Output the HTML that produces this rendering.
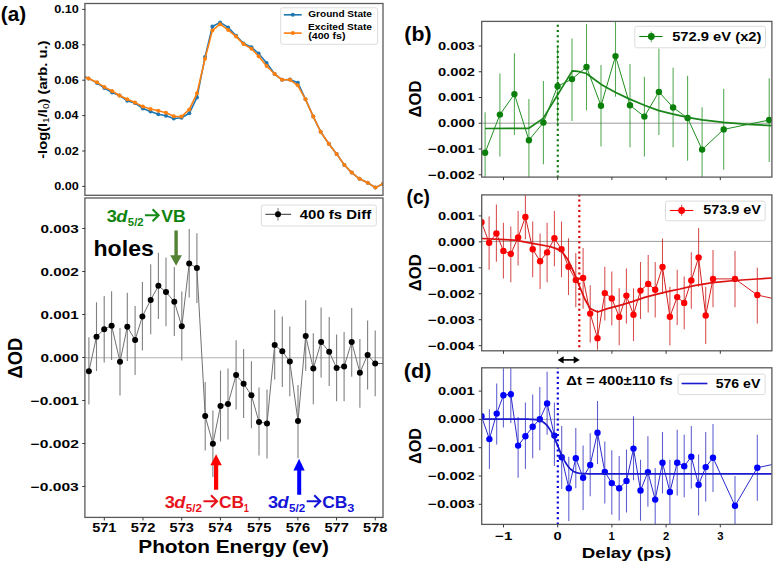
<!DOCTYPE html>
<html><head><meta charset="utf-8"><style>
html,body{margin:0;padding:0;background:#fff;}
svg{display:block;font-family:"Liberation Sans", sans-serif;}
</style></head><body>
<svg width="774" height="563" viewBox="0 0 774 563" font-family="Liberation Sans, sans-serif">
<defs>
<clipPath id="ca1"><rect x="84.9" y="3.5" width="298.1" height="191.8"/></clipPath>
<clipPath id="ca2"><rect x="84.9" y="198.0" width="298.1" height="319.4"/></clipPath>
<clipPath id="cb"><rect x="481.7" y="21.4" width="290.2" height="155.7"/></clipPath>
<clipPath id="cc"><rect x="481.7" y="194.9" width="290.2" height="155.9"/></clipPath>
<clipPath id="cd"><rect x="481.7" y="367.8" width="290.2" height="156.6"/></clipPath>
</defs>
<rect x="0" y="0" width="774" height="563" fill="#fff"/>
<g clip-path="url(#ca1)">
<polyline points="85.2,76.9 88.5,78.4 97,82.9 104.4,88.1 112.1,92.6 119.5,95.5 127.2,100.7 135,103 142.8,108.4 150.5,111.4 158.3,114.3 166,115.8 173.8,118.5 181.5,117.8 189.3,113.3 197,97.4 205,57.1 212.4,26.5 220.1,22.4 228.1,27.4 236.1,35.8 243.5,43.4 251.5,47.3 258.6,53.5 266.6,62.9 274.6,74 282.1,79.8 290,79.5 297.8,82.7 305.5,99.3 313.3,116.6 320.6,131.7 328.8,143.7 336.6,153.9 344.4,165 351.7,172.6 359.5,178.8 367.7,182.8 375.4,187.6 383.2,183.7" fill="none" stroke="#1f77b4" stroke-width="1.6" stroke-linejoin="round" />
<circle cx="88.5" cy="78.4" r="2.0" fill="#1f77b4"/>
<circle cx="97" cy="82.9" r="2.0" fill="#1f77b4"/>
<circle cx="104.4" cy="88.1" r="2.0" fill="#1f77b4"/>
<circle cx="112.1" cy="92.6" r="2.0" fill="#1f77b4"/>
<circle cx="119.5" cy="95.5" r="2.0" fill="#1f77b4"/>
<circle cx="127.2" cy="100.7" r="2.0" fill="#1f77b4"/>
<circle cx="135" cy="103" r="2.0" fill="#1f77b4"/>
<circle cx="142.8" cy="108.4" r="2.0" fill="#1f77b4"/>
<circle cx="150.5" cy="111.4" r="2.0" fill="#1f77b4"/>
<circle cx="158.3" cy="114.3" r="2.0" fill="#1f77b4"/>
<circle cx="166" cy="115.8" r="2.0" fill="#1f77b4"/>
<circle cx="173.8" cy="118.5" r="2.0" fill="#1f77b4"/>
<circle cx="181.5" cy="117.8" r="2.0" fill="#1f77b4"/>
<circle cx="189.3" cy="113.3" r="2.0" fill="#1f77b4"/>
<circle cx="197" cy="97.4" r="2.0" fill="#1f77b4"/>
<circle cx="205" cy="57.1" r="2.0" fill="#1f77b4"/>
<circle cx="212.4" cy="26.5" r="2.0" fill="#1f77b4"/>
<circle cx="220.1" cy="22.4" r="2.0" fill="#1f77b4"/>
<circle cx="228.1" cy="27.4" r="2.0" fill="#1f77b4"/>
<circle cx="236.1" cy="35.8" r="2.0" fill="#1f77b4"/>
<circle cx="243.5" cy="43.4" r="2.0" fill="#1f77b4"/>
<circle cx="251.5" cy="47.3" r="2.0" fill="#1f77b4"/>
<circle cx="258.6" cy="53.5" r="2.0" fill="#1f77b4"/>
<circle cx="266.6" cy="62.9" r="2.0" fill="#1f77b4"/>
<circle cx="274.6" cy="74" r="2.0" fill="#1f77b4"/>
<circle cx="282.1" cy="79.8" r="2.0" fill="#1f77b4"/>
<circle cx="290" cy="79.5" r="2.0" fill="#1f77b4"/>
<circle cx="297.8" cy="82.7" r="2.0" fill="#1f77b4"/>
<circle cx="305.5" cy="99.3" r="2.0" fill="#1f77b4"/>
<circle cx="313.3" cy="116.6" r="2.0" fill="#1f77b4"/>
<circle cx="320.6" cy="131.7" r="2.0" fill="#1f77b4"/>
<circle cx="328.8" cy="143.7" r="2.0" fill="#1f77b4"/>
<circle cx="336.6" cy="153.9" r="2.0" fill="#1f77b4"/>
<circle cx="344.4" cy="165" r="2.0" fill="#1f77b4"/>
<circle cx="351.7" cy="172.6" r="2.0" fill="#1f77b4"/>
<circle cx="359.5" cy="178.8" r="2.0" fill="#1f77b4"/>
<circle cx="367.7" cy="182.8" r="2.0" fill="#1f77b4"/>
<circle cx="375.4" cy="187.6" r="2.0" fill="#1f77b4"/>
<circle cx="383.2" cy="183.7" r="2.0" fill="#1f77b4"/>
<polyline points="85.2,76.9 88.5,78.4 97,82.3 104.4,87.1 112.1,91 119.5,95.5 127.2,99.3 135,102.6 142.8,106.5 150.5,109 158.3,110.8 166,112.7 173.8,116.2 181.5,116.6 189.3,109.4 197,93.3 205,58.8 212.4,30.4 220.1,24.2 228.1,29.9 236.1,36.6 243.5,44.1 251.5,48.7 258.6,56.2 266.6,66 274.6,74 282.1,79.8 290,79.8 297.7,85.3 305.5,99.3 313.3,116.6 320.6,131.7 328.8,143.7 336.6,153.9 344.4,165 351.7,172.6 359.5,178.8 367.7,182.8 375.4,187.6 383.2,183.7" fill="none" stroke="#ff7f0e" stroke-width="1.6" stroke-linejoin="round" />
<circle cx="88.5" cy="78.4" r="2.0" fill="#ff7f0e"/>
<circle cx="97" cy="82.3" r="2.0" fill="#ff7f0e"/>
<circle cx="104.4" cy="87.1" r="2.0" fill="#ff7f0e"/>
<circle cx="112.1" cy="91" r="2.0" fill="#ff7f0e"/>
<circle cx="119.5" cy="95.5" r="2.0" fill="#ff7f0e"/>
<circle cx="127.2" cy="99.3" r="2.0" fill="#ff7f0e"/>
<circle cx="135" cy="102.6" r="2.0" fill="#ff7f0e"/>
<circle cx="142.8" cy="106.5" r="2.0" fill="#ff7f0e"/>
<circle cx="150.5" cy="109" r="2.0" fill="#ff7f0e"/>
<circle cx="158.3" cy="110.8" r="2.0" fill="#ff7f0e"/>
<circle cx="166" cy="112.7" r="2.0" fill="#ff7f0e"/>
<circle cx="173.8" cy="116.2" r="2.0" fill="#ff7f0e"/>
<circle cx="181.5" cy="116.6" r="2.0" fill="#ff7f0e"/>
<circle cx="189.3" cy="109.4" r="2.0" fill="#ff7f0e"/>
<circle cx="197" cy="93.3" r="2.0" fill="#ff7f0e"/>
<circle cx="205" cy="58.8" r="2.0" fill="#ff7f0e"/>
<circle cx="212.4" cy="30.4" r="2.0" fill="#ff7f0e"/>
<circle cx="220.1" cy="24.2" r="2.0" fill="#ff7f0e"/>
<circle cx="228.1" cy="29.9" r="2.0" fill="#ff7f0e"/>
<circle cx="236.1" cy="36.6" r="2.0" fill="#ff7f0e"/>
<circle cx="243.5" cy="44.1" r="2.0" fill="#ff7f0e"/>
<circle cx="251.5" cy="48.7" r="2.0" fill="#ff7f0e"/>
<circle cx="258.6" cy="56.2" r="2.0" fill="#ff7f0e"/>
<circle cx="266.6" cy="66" r="2.0" fill="#ff7f0e"/>
<circle cx="274.6" cy="74" r="2.0" fill="#ff7f0e"/>
<circle cx="282.1" cy="79.8" r="2.0" fill="#ff7f0e"/>
<circle cx="290" cy="79.8" r="2.0" fill="#ff7f0e"/>
<circle cx="297.7" cy="85.3" r="2.0" fill="#ff7f0e"/>
<circle cx="305.5" cy="99.3" r="2.0" fill="#ff7f0e"/>
<circle cx="313.3" cy="116.6" r="2.0" fill="#ff7f0e"/>
<circle cx="320.6" cy="131.7" r="2.0" fill="#ff7f0e"/>
<circle cx="328.8" cy="143.7" r="2.0" fill="#ff7f0e"/>
<circle cx="336.6" cy="153.9" r="2.0" fill="#ff7f0e"/>
<circle cx="344.4" cy="165" r="2.0" fill="#ff7f0e"/>
<circle cx="351.7" cy="172.6" r="2.0" fill="#ff7f0e"/>
<circle cx="359.5" cy="178.8" r="2.0" fill="#ff7f0e"/>
<circle cx="367.7" cy="182.8" r="2.0" fill="#ff7f0e"/>
<circle cx="375.4" cy="187.6" r="2.0" fill="#ff7f0e"/>
<circle cx="383.2" cy="183.7" r="2.0" fill="#ff7f0e"/>
</g>
<rect x="84.9" y="3.5" width="298.1" height="191.8" fill="none" stroke="#5a5a5a" stroke-width="1.3" />
<line x1="82.2" y1="186.4" x2="85.2" y2="186.4" stroke="#3a3a3a" stroke-width="1" />
<text x="54.19" y="190.2" font-size="10.9" font-weight="bold" font-style="normal" fill="#000" textLength="24.63" lengthAdjust="spacingAndGlyphs" >0.00</text>
<line x1="82.2" y1="151" x2="85.2" y2="151" stroke="#3a3a3a" stroke-width="1" />
<text x="54.19" y="154.8" font-size="10.9" font-weight="bold" font-style="normal" fill="#000" textLength="24.63" lengthAdjust="spacingAndGlyphs" >0.02</text>
<line x1="82.2" y1="115.6" x2="85.2" y2="115.6" stroke="#3a3a3a" stroke-width="1" />
<text x="54.2" y="119.4" font-size="10.9" font-weight="bold" font-style="normal" fill="#000" textLength="24.18" lengthAdjust="spacingAndGlyphs" >0.04</text>
<line x1="82.2" y1="80.2" x2="85.2" y2="80.2" stroke="#3a3a3a" stroke-width="1" />
<text x="54.2" y="84" font-size="10.9" font-weight="bold" font-style="normal" fill="#000" textLength="24.56" lengthAdjust="spacingAndGlyphs" >0.06</text>
<line x1="82.2" y1="44.8" x2="85.2" y2="44.8" stroke="#3a3a3a" stroke-width="1" />
<text x="54.2" y="48.6" font-size="10.9" font-weight="bold" font-style="normal" fill="#000" textLength="24.5" lengthAdjust="spacingAndGlyphs" >0.08</text>
<line x1="82.2" y1="9.4" x2="85.2" y2="9.4" stroke="#3a3a3a" stroke-width="1" />
<text x="54.19" y="13.2" font-size="10.9" font-weight="bold" font-style="normal" fill="#000" textLength="24.63" lengthAdjust="spacingAndGlyphs" >0.10</text>
<g transform="translate(47.2,158.8) rotate(-90)" font-family="Liberation Sans, sans-serif" font-size="12.4" font-weight="bold" fill="#000">
<text x="0" y="0" textLength="118.2" lengthAdjust="spacingAndGlyphs">-log(I<tspan font-weight="normal" font-size="8.5" dy="2.2">1</tspan><tspan dy="-2.2">/I</tspan><tspan font-weight="normal" font-size="8.5" dy="2.2">0</tspan><tspan dy="-2.2">) (arb. u.)</tspan></text>
</g>
<rect x="280.7" y="7.8" width="96.9" height="36.5" fill="#fff" stroke="#d8d8d8" stroke-width="0.9" rx="2"/>
<line x1="283.8" y1="14.8" x2="301.7" y2="14.8" stroke="#1f77b4" stroke-width="1.6" />
<circle cx="292.8" cy="14.8" r="2.0" fill="#1f77b4"/>
<line x1="283.8" y1="33.1" x2="301.7" y2="33.1" stroke="#ff7f0e" stroke-width="1.6" />
<circle cx="292.8" cy="33.1" r="2.0" fill="#ff7f0e"/>
<text x="308.3" y="17.3" font-size="9" font-weight="bold" font-style="normal" fill="#000" textLength="63.64" lengthAdjust="spacingAndGlyphs" >Ground State</text>
<text x="308.04" y="29.8" font-size="9" font-weight="bold" font-style="normal" fill="#000" textLength="63.92" lengthAdjust="spacingAndGlyphs" >Excited State</text>
<text x="308.17" y="38.8" font-size="9" font-weight="bold" font-style="normal" fill="#000" textLength="37.33" lengthAdjust="spacingAndGlyphs" >(400 fs)</text>
<g clip-path="url(#ca2)">
<line x1="85.2" y1="357.7" x2="382.5" y2="357.7" stroke="#b0b0b0" stroke-width="1.1" />
<line x1="88.9" y1="337.2" x2="88.9" y2="404.4" stroke="#808080" stroke-width="1.1" />
<line x1="96.5" y1="302.2" x2="96.5" y2="371" stroke="#808080" stroke-width="1.1" />
<line x1="104.2" y1="296.1" x2="104.2" y2="362.6" stroke="#808080" stroke-width="1.1" />
<line x1="111.6" y1="291.2" x2="111.6" y2="360" stroke="#808080" stroke-width="1.1" />
<line x1="120" y1="328" x2="120" y2="395.5" stroke="#808080" stroke-width="1.1" />
<line x1="127.3" y1="292.8" x2="127.3" y2="360.9" stroke="#808080" stroke-width="1.1" />
<line x1="135.1" y1="306.1" x2="135.1" y2="375.1" stroke="#808080" stroke-width="1.1" />
<line x1="142.4" y1="282.1" x2="142.4" y2="350.6" stroke="#808080" stroke-width="1.1" />
<line x1="150.7" y1="264.3" x2="150.7" y2="334.2" stroke="#808080" stroke-width="1.1" />
<line x1="158.4" y1="252.8" x2="158.4" y2="319" stroke="#808080" stroke-width="1.1" />
<line x1="166" y1="257.4" x2="166" y2="326.2" stroke="#808080" stroke-width="1.1" />
<line x1="174.3" y1="267" x2="174.3" y2="336" stroke="#808080" stroke-width="1.1" />
<line x1="181.8" y1="291.5" x2="181.8" y2="360.5" stroke="#808080" stroke-width="1.1" />
<line x1="189.2" y1="228.9" x2="189.2" y2="297.6" stroke="#808080" stroke-width="1.1" />
<line x1="196.9" y1="233.3" x2="196.9" y2="303.1" stroke="#808080" stroke-width="1.1" />
<line x1="205.2" y1="382" x2="205.2" y2="450.4" stroke="#808080" stroke-width="1.1" />
<line x1="212.9" y1="410.4" x2="212.9" y2="477" stroke="#808080" stroke-width="1.1" />
<line x1="220.5" y1="370.4" x2="220.5" y2="441.5" stroke="#808080" stroke-width="1.1" />
<line x1="228" y1="368.6" x2="228" y2="439.4" stroke="#808080" stroke-width="1.1" />
<line x1="236.1" y1="340.2" x2="236.1" y2="409.5" stroke="#808080" stroke-width="1.1" />
<line x1="243.6" y1="349.1" x2="243.6" y2="417.9" stroke="#808080" stroke-width="1.1" />
<line x1="251.4" y1="361.2" x2="251.4" y2="428.2" stroke="#808080" stroke-width="1.1" />
<line x1="259" y1="387.6" x2="259" y2="455.4" stroke="#808080" stroke-width="1.1" />
<line x1="267" y1="389.4" x2="267" y2="458.4" stroke="#808080" stroke-width="1.1" />
<line x1="274.7" y1="309.8" x2="274.7" y2="379.5" stroke="#808080" stroke-width="1.1" />
<line x1="282.3" y1="316.6" x2="282.3" y2="387" stroke="#808080" stroke-width="1.1" />
<line x1="289.8" y1="326.4" x2="289.8" y2="396.2" stroke="#808080" stroke-width="1.1" />
<line x1="298" y1="385" x2="298" y2="458.2" stroke="#808080" stroke-width="1.1" />
<line x1="305.7" y1="300.2" x2="305.7" y2="370.7" stroke="#808080" stroke-width="1.1" />
<line x1="313.3" y1="333.3" x2="313.3" y2="404.3" stroke="#808080" stroke-width="1.1" />
<line x1="321.1" y1="307.4" x2="321.1" y2="377.4" stroke="#808080" stroke-width="1.1" />
<line x1="329.2" y1="317" x2="329.2" y2="386" stroke="#808080" stroke-width="1.1" />
<line x1="336.6" y1="334.5" x2="336.6" y2="401.3" stroke="#808080" stroke-width="1.1" />
<line x1="344.1" y1="331.9" x2="344.1" y2="401.3" stroke="#808080" stroke-width="1.1" />
<line x1="351.7" y1="308" x2="351.7" y2="376.8" stroke="#808080" stroke-width="1.1" />
<line x1="359.9" y1="339" x2="359.9" y2="407.8" stroke="#808080" stroke-width="1.1" />
<line x1="367.6" y1="320.6" x2="367.6" y2="389.5" stroke="#808080" stroke-width="1.1" />
<line x1="375.2" y1="330.4" x2="375.2" y2="396.2" stroke="#808080" stroke-width="1.1" />
<line x1="390.7" y1="330" x2="390.7" y2="397" stroke="#808080" stroke-width="1.1" />
<polyline points="88.9,371.2 96.5,336.8 104.2,329.2 111.6,325.7 120,361.7 127.3,326.8 135.1,340 142.4,316.4 150.7,299.9 158.4,285.8 166,292 174.3,301.8 181.8,326.3 189.2,263.5 196.9,268 205.2,416.1 212.9,443.8 220.5,405.9 228,403.9 236.1,375 243.6,383.7 251.4,395.3 259,422 267,423.4 274.7,345.1 282.3,351.3 289.8,361.5 298,421.1 305.7,336 313.3,368.6 321.1,342.1 329.2,351.7 336.6,368 344.1,366.6 351.7,342.1 359.9,372.7 367.6,354.9 375.2,363.5 390.7,363.5" fill="none" stroke="#707070" stroke-width="1.0" stroke-linejoin="round" />
<circle cx="88.9" cy="371.2" r="3.0" fill="#000"/>
<circle cx="96.5" cy="336.8" r="3.0" fill="#000"/>
<circle cx="104.2" cy="329.2" r="3.0" fill="#000"/>
<circle cx="111.6" cy="325.7" r="3.0" fill="#000"/>
<circle cx="120" cy="361.7" r="3.0" fill="#000"/>
<circle cx="127.3" cy="326.8" r="3.0" fill="#000"/>
<circle cx="135.1" cy="340" r="3.0" fill="#000"/>
<circle cx="142.4" cy="316.4" r="3.0" fill="#000"/>
<circle cx="150.7" cy="299.9" r="3.0" fill="#000"/>
<circle cx="158.4" cy="285.8" r="3.0" fill="#000"/>
<circle cx="166" cy="292" r="3.0" fill="#000"/>
<circle cx="174.3" cy="301.8" r="3.0" fill="#000"/>
<circle cx="181.8" cy="326.3" r="3.0" fill="#000"/>
<circle cx="189.2" cy="263.5" r="3.0" fill="#000"/>
<circle cx="196.9" cy="268" r="3.0" fill="#000"/>
<circle cx="205.2" cy="416.1" r="3.0" fill="#000"/>
<circle cx="212.9" cy="443.8" r="3.0" fill="#000"/>
<circle cx="220.5" cy="405.9" r="3.0" fill="#000"/>
<circle cx="228" cy="403.9" r="3.0" fill="#000"/>
<circle cx="236.1" cy="375" r="3.0" fill="#000"/>
<circle cx="243.6" cy="383.7" r="3.0" fill="#000"/>
<circle cx="251.4" cy="395.3" r="3.0" fill="#000"/>
<circle cx="259" cy="422" r="3.0" fill="#000"/>
<circle cx="267" cy="423.4" r="3.0" fill="#000"/>
<circle cx="274.7" cy="345.1" r="3.0" fill="#000"/>
<circle cx="282.3" cy="351.3" r="3.0" fill="#000"/>
<circle cx="289.8" cy="361.5" r="3.0" fill="#000"/>
<circle cx="298" cy="421.1" r="3.0" fill="#000"/>
<circle cx="305.7" cy="336" r="3.0" fill="#000"/>
<circle cx="313.3" cy="368.6" r="3.0" fill="#000"/>
<circle cx="321.1" cy="342.1" r="3.0" fill="#000"/>
<circle cx="329.2" cy="351.7" r="3.0" fill="#000"/>
<circle cx="336.6" cy="368" r="3.0" fill="#000"/>
<circle cx="344.1" cy="366.6" r="3.0" fill="#000"/>
<circle cx="351.7" cy="342.1" r="3.0" fill="#000"/>
<circle cx="359.9" cy="372.7" r="3.0" fill="#000"/>
<circle cx="367.6" cy="354.9" r="3.0" fill="#000"/>
<circle cx="375.2" cy="363.5" r="3.0" fill="#000"/>
<circle cx="390.7" cy="363.5" r="3.0" fill="#000"/>
</g>
<rect x="84.9" y="198" width="298.1" height="319.4" fill="none" stroke="#5a5a5a" stroke-width="1.3" />
<line x1="82.2" y1="228.5" x2="85.2" y2="228.5" stroke="#3a3a3a" stroke-width="1" />
<text x="40.59" y="232.55" font-size="11.6" font-weight="bold" font-style="normal" fill="#000" textLength="38.18" lengthAdjust="spacingAndGlyphs" >0.003</text>
<line x1="82.2" y1="271.5" x2="85.2" y2="271.5" stroke="#3a3a3a" stroke-width="1" />
<text x="40.59" y="275.55" font-size="11.6" font-weight="bold" font-style="normal" fill="#000" textLength="38.26" lengthAdjust="spacingAndGlyphs" >0.002</text>
<line x1="82.2" y1="314.5" x2="85.2" y2="314.5" stroke="#3a3a3a" stroke-width="1" />
<text x="40.59" y="318.55" font-size="11.6" font-weight="bold" font-style="normal" fill="#000" textLength="38.03" lengthAdjust="spacingAndGlyphs" >0.001</text>
<line x1="82.2" y1="357.5" x2="85.2" y2="357.5" stroke="#3a3a3a" stroke-width="1" />
<text x="40.59" y="361.55" font-size="11.6" font-weight="bold" font-style="normal" fill="#000" textLength="38.26" lengthAdjust="spacingAndGlyphs" >0.000</text>
<line x1="82.2" y1="400.5" x2="85.2" y2="400.5" stroke="#3a3a3a" stroke-width="1" />
<text x="30.68" y="404.55" font-size="11.6" font-weight="bold" font-style="normal" fill="#000" textLength="47.93" lengthAdjust="spacingAndGlyphs" >−0.001</text>
<line x1="82.2" y1="443.5" x2="85.2" y2="443.5" stroke="#3a3a3a" stroke-width="1" />
<text x="30.68" y="447.55" font-size="11.6" font-weight="bold" font-style="normal" fill="#000" textLength="48.17" lengthAdjust="spacingAndGlyphs" >−0.002</text>
<line x1="82.2" y1="486.5" x2="85.2" y2="486.5" stroke="#3a3a3a" stroke-width="1" />
<text x="30.68" y="490.55" font-size="11.6" font-weight="bold" font-style="normal" fill="#000" textLength="48.09" lengthAdjust="spacingAndGlyphs" >−0.003</text>
<line x1="104.3" y1="517.4" x2="104.3" y2="520.4" stroke="#3a3a3a" stroke-width="1" />
<text x="92.16" y="532" font-size="12" font-weight="bold" font-style="normal" fill="#000" textLength="24.25" lengthAdjust="spacingAndGlyphs" >571</text>
<line x1="143.01" y1="517.4" x2="143.01" y2="520.4" stroke="#3a3a3a" stroke-width="1" />
<text x="130.87" y="532" font-size="12" font-weight="bold" font-style="normal" fill="#000" textLength="24.48" lengthAdjust="spacingAndGlyphs" >572</text>
<line x1="181.72" y1="517.4" x2="181.72" y2="520.4" stroke="#3a3a3a" stroke-width="1" />
<text x="169.58" y="532" font-size="12" font-weight="bold" font-style="normal" fill="#000" textLength="24.4" lengthAdjust="spacingAndGlyphs" >573</text>
<line x1="220.43" y1="517.4" x2="220.43" y2="520.4" stroke="#3a3a3a" stroke-width="1" />
<text x="208.3" y="532" font-size="12" font-weight="bold" font-style="normal" fill="#000" textLength="23.95" lengthAdjust="spacingAndGlyphs" >574</text>
<line x1="259.14" y1="517.4" x2="259.14" y2="520.4" stroke="#3a3a3a" stroke-width="1" />
<text x="247" y="532" font-size="12" font-weight="bold" font-style="normal" fill="#000" textLength="24.25" lengthAdjust="spacingAndGlyphs" >575</text>
<line x1="297.85" y1="517.4" x2="297.85" y2="520.4" stroke="#3a3a3a" stroke-width="1" />
<text x="285.71" y="532" font-size="12" font-weight="bold" font-style="normal" fill="#000" textLength="24.4" lengthAdjust="spacingAndGlyphs" >576</text>
<line x1="336.56" y1="517.4" x2="336.56" y2="520.4" stroke="#3a3a3a" stroke-width="1" />
<text x="324.42" y="532" font-size="12" font-weight="bold" font-style="normal" fill="#000" textLength="24.48" lengthAdjust="spacingAndGlyphs" >577</text>
<line x1="375.27" y1="517.4" x2="375.27" y2="520.4" stroke="#3a3a3a" stroke-width="1" />
<text x="363.13" y="532" font-size="12" font-weight="bold" font-style="normal" fill="#000" textLength="24.33" lengthAdjust="spacingAndGlyphs" >578</text>
<text x="138.25" y="552.6" font-size="17.9" font-weight="bold" font-style="normal" fill="#000" textLength="190.75" lengthAdjust="spacingAndGlyphs" >Photon Energy (ev)</text>
<text transform="translate(22,378.43) rotate(-90)" x="0" y="0" font-size="19.4" font-weight="bold" fill="#000" textLength="40.74" lengthAdjust="spacingAndGlyphs">ΔOD</text>
<rect x="261.4" y="205" width="114.9" height="21" fill="#fff" stroke="#d8d8d8" stroke-width="0.9" rx="2"/>
<line x1="265.4" y1="214.3" x2="291.1" y2="214.3" stroke="#333" stroke-width="1.0" />
<line x1="278" y1="208.1" x2="278" y2="220.5" stroke="#808080" stroke-width="1.1" />
<circle cx="278" cy="214.3" r="3.0" fill="#000"/>
<text x="299.78" y="218.5" font-size="12.6" font-weight="bold" font-style="normal" fill="#000" textLength="71.42" lengthAdjust="spacingAndGlyphs" >400 fs Diff</text>
<polygon points="174.4,230.4 177.8,230.4 177.8,255.2 181.9,255.2 176.1,265.7 170.2,255.2 174.4,255.2" fill="#548235"/>
<polygon points="214,489.7 218.2,489.7 218.2,465.3 221.8,465.3 216.1,454.2 210.4,465.3 214,465.3" fill="#ff0000"/>
<polygon points="297.2,494.7 301.2,494.7 301.2,470.5 304.7,470.5 299.1,458.8 293.4,470.5 297.2,470.5" fill="#0000ff"/>
<text x="93.48" y="256.1" font-size="22.5" font-weight="bold" font-style="normal" fill="#000" textLength="60.39" lengthAdjust="spacingAndGlyphs" >holes</text>
<text x="106.85" y="221.9" font-size="17" font-weight="bold" font-style="normal" fill="#0e840e" textLength="10.11" lengthAdjust="spacingAndGlyphs" >3</text>
<text x="116.25" y="221.9" font-size="17" font-weight="bold" font-style="italic" fill="#0e840e" textLength="11.1" lengthAdjust="spacingAndGlyphs" >d</text>
<text x="127.86" y="225.9" font-size="11" font-weight="bold" font-style="normal" fill="#0e840e" textLength="15.69" lengthAdjust="spacingAndGlyphs" >5/2</text>
<path d="M145,215.3 H158.6 M152.6,209.3 L158.6,215.3 L152.6,221.3" fill="none" stroke="#168a16" stroke-width="2.1"/>
<text x="161.21" y="221.9" font-size="17" font-weight="bold" font-style="normal" fill="#0e840e" textLength="24.56" lengthAdjust="spacingAndGlyphs" >VB</text>
<text x="164.75" y="507.9" font-size="17" font-weight="bold" font-style="normal" fill="#e8141c" textLength="10.11" lengthAdjust="spacingAndGlyphs" >3</text>
<text x="174.16" y="507.9" font-size="17" font-weight="bold" font-style="italic" fill="#e8141c" textLength="11.1" lengthAdjust="spacingAndGlyphs" >d</text>
<text x="185.75" y="511.9" font-size="11" font-weight="bold" font-style="normal" fill="#e8141c" textLength="16.22" lengthAdjust="spacingAndGlyphs" >5/2</text>
<path d="M203.4,501.3 H217 M211,495.3 L217,501.3 L211,507.3" fill="none" stroke="#e8141c" stroke-width="2.1"/>
<text x="219" y="507.9" font-size="17" font-weight="bold" font-style="normal" fill="#e8141c" textLength="25.16" lengthAdjust="spacingAndGlyphs" >CB</text>
<text x="243.65" y="511.7" font-size="11" font-weight="bold" font-style="normal" fill="#e8141c" textLength="5.09" lengthAdjust="spacingAndGlyphs" >1</text>
<text x="268.05" y="507.9" font-size="17" font-weight="bold" font-style="normal" fill="#1414d8" textLength="10.11" lengthAdjust="spacingAndGlyphs" >3</text>
<text x="277.45" y="507.9" font-size="17" font-weight="bold" font-style="italic" fill="#1414d8" textLength="11.1" lengthAdjust="spacingAndGlyphs" >d</text>
<text x="289.05" y="511.9" font-size="11" font-weight="bold" font-style="normal" fill="#1414d8" textLength="16.22" lengthAdjust="spacingAndGlyphs" >5/2</text>
<path d="M306.7,501.3 H320.3 M314.3,495.3 L320.3,501.3 L314.3,507.3" fill="none" stroke="#1414d8" stroke-width="2.1"/>
<text x="322.3" y="507.9" font-size="17" font-weight="bold" font-style="normal" fill="#1414d8" textLength="25.16" lengthAdjust="spacingAndGlyphs" >CB</text>
<text x="347.18" y="511.9" font-size="11" font-weight="bold" font-style="normal" fill="#1414d8" textLength="7.08" lengthAdjust="spacingAndGlyphs" >3</text>
<text x="0.86" y="20.8" font-size="20.5" font-weight="bold" font-style="normal" fill="#000" textLength="25.31" lengthAdjust="spacingAndGlyphs" >(a)</text>
<text x="404.34" y="40.7" font-size="20.5" font-weight="bold" font-style="normal" fill="#000" textLength="27.16" lengthAdjust="spacingAndGlyphs" >(b)</text>
<text x="406.54" y="203.9" font-size="20.5" font-weight="bold" font-style="normal" fill="#000" textLength="23.36" lengthAdjust="spacingAndGlyphs" >(c)</text>
<text x="403.82" y="377.5" font-size="20.5" font-weight="bold" font-style="normal" fill="#000" textLength="27.7" lengthAdjust="spacingAndGlyphs" >(d)</text>
<g clip-path="url(#cb)">
<line x1="481.7" y1="123.2" x2="771.9" y2="123.2" stroke="#909090" stroke-width="0.9" />
<line x1="485.1" y1="112.3" x2="485.1" y2="178" stroke="rgba(0,128,0,0.68)" stroke-width="1.05" />
<line x1="499.9" y1="73.4" x2="499.9" y2="156.4" stroke="rgba(0,128,0,0.68)" stroke-width="1.05" />
<line x1="514.4" y1="53.2" x2="514.4" y2="135" stroke="rgba(0,128,0,0.68)" stroke-width="1.05" />
<line x1="528.9" y1="99" x2="528.9" y2="178" stroke="rgba(0,128,0,0.68)" stroke-width="1.05" />
<line x1="543.4" y1="81.1" x2="543.4" y2="164.3" stroke="rgba(0,128,0,0.68)" stroke-width="1.05" />
<line x1="557.6" y1="45.6" x2="557.6" y2="126.5" stroke="rgba(0,128,0,0.68)" stroke-width="1.05" />
<line x1="572" y1="38.5" x2="572" y2="120.9" stroke="rgba(0,128,0,0.68)" stroke-width="1.05" />
<line x1="586.5" y1="24" x2="586.5" y2="110.3" stroke="rgba(0,128,0,0.68)" stroke-width="1.05" />
<line x1="601" y1="64.9" x2="601" y2="146.4" stroke="rgba(0,128,0,0.68)" stroke-width="1.05" />
<line x1="615.5" y1="15" x2="615.5" y2="96.7" stroke="rgba(0,128,0,0.68)" stroke-width="1.05" />
<line x1="630" y1="64" x2="630" y2="147.3" stroke="rgba(0,128,0,0.68)" stroke-width="1.05" />
<line x1="644.4" y1="76.8" x2="644.4" y2="156.4" stroke="rgba(0,128,0,0.68)" stroke-width="1.05" />
<line x1="658.9" y1="48.4" x2="658.9" y2="135.1" stroke="rgba(0,128,0,0.68)" stroke-width="1.05" />
<line x1="673.1" y1="67.7" x2="673.1" y2="147.3" stroke="rgba(0,128,0,0.68)" stroke-width="1.05" />
<line x1="687.6" y1="75.7" x2="687.6" y2="160.7" stroke="rgba(0,128,0,0.68)" stroke-width="1.05" />
<line x1="702.1" y1="107.2" x2="702.1" y2="178" stroke="rgba(0,128,0,0.68)" stroke-width="1.05" />
<line x1="723.7" y1="88.8" x2="723.7" y2="169.8" stroke="rgba(0,128,0,0.68)" stroke-width="1.05" />
<line x1="769.2" y1="78.3" x2="769.2" y2="162.1" stroke="rgba(0,128,0,0.68)" stroke-width="1.05" />
<polyline points="485.1,152.7 499.9,114.6 514.4,94.1 528.9,140.2 543.4,122.6 557.6,86.2 572,79.1 586.5,66.9 601,105.8 615.5,56.1 630,105.3 644.4,116.6 658.9,91.9 673.1,107.5 687.6,118 702.1,149.6 723.7,129.4 769.2,120" fill="none" stroke="#1f8f1f" stroke-width="1.0" stroke-linejoin="round" />
<circle cx="485.1" cy="152.7" r="3.2" fill="#0a800a"/>
<circle cx="499.9" cy="114.6" r="3.2" fill="#0a800a"/>
<circle cx="514.4" cy="94.1" r="3.2" fill="#0a800a"/>
<circle cx="528.9" cy="140.2" r="3.2" fill="#0a800a"/>
<circle cx="543.4" cy="122.6" r="3.2" fill="#0a800a"/>
<circle cx="557.6" cy="86.2" r="3.2" fill="#0a800a"/>
<circle cx="572" cy="79.1" r="3.2" fill="#0a800a"/>
<circle cx="586.5" cy="66.9" r="3.2" fill="#0a800a"/>
<circle cx="601" cy="105.8" r="3.2" fill="#0a800a"/>
<circle cx="615.5" cy="56.1" r="3.2" fill="#0a800a"/>
<circle cx="630" cy="105.3" r="3.2" fill="#0a800a"/>
<circle cx="644.4" cy="116.6" r="3.2" fill="#0a800a"/>
<circle cx="658.9" cy="91.9" r="3.2" fill="#0a800a"/>
<circle cx="673.1" cy="107.5" r="3.2" fill="#0a800a"/>
<circle cx="687.6" cy="118" r="3.2" fill="#0a800a"/>
<circle cx="702.1" cy="149.6" r="3.2" fill="#0a800a"/>
<circle cx="723.7" cy="129.4" r="3.2" fill="#0a800a"/>
<circle cx="769.2" cy="120" r="3.2" fill="#0a800a"/>
<polyline points="485.1,128.5 528.9,128.3 543.2,118.4 572.3,70.9 578,71.4 586.4,73.5 593.1,78.5 601.2,84.4 606.6,87.6 615.7,92.5 629.2,98.9 645,105.5 658.9,110.6 673.1,114.2 687.6,117.4 702.1,119.8 723.7,122.4 747.9,124.3 771.9,125.6" fill="none" stroke="#1a861a" stroke-width="1.75" stroke-linejoin="round" />
<line x1="557.8" y1="21.4" x2="557.8" y2="177.1" stroke="#0a7a0a" stroke-width="2.2" stroke-dasharray="2,3.2" stroke-dashoffset="1.8"/>
</g>
<rect x="481.7" y="21.4" width="290.2" height="155.7" fill="none" stroke="#5a5a5a" stroke-width="1.3" />
<line x1="478.7" y1="46" x2="481.7" y2="46" stroke="#3a3a3a" stroke-width="1" />
<text x="438.11" y="49.95" font-size="11.4" font-weight="bold" font-style="normal" fill="#000" textLength="36.63" lengthAdjust="spacingAndGlyphs" >0.003</text>
<line x1="478.7" y1="71.75" x2="481.7" y2="71.75" stroke="#3a3a3a" stroke-width="1" />
<text x="438.11" y="75.7" font-size="11.4" font-weight="bold" font-style="normal" fill="#000" textLength="36.71" lengthAdjust="spacingAndGlyphs" >0.002</text>
<line x1="478.7" y1="97.5" x2="481.7" y2="97.5" stroke="#3a3a3a" stroke-width="1" />
<text x="438.12" y="101.45" font-size="11.4" font-weight="bold" font-style="normal" fill="#000" textLength="36.48" lengthAdjust="spacingAndGlyphs" >0.001</text>
<line x1="478.7" y1="123.25" x2="481.7" y2="123.25" stroke="#3a3a3a" stroke-width="1" />
<text x="438.11" y="127.2" font-size="11.4" font-weight="bold" font-style="normal" fill="#000" textLength="36.71" lengthAdjust="spacingAndGlyphs" >0.000</text>
<line x1="478.7" y1="149" x2="481.7" y2="149" stroke="#3a3a3a" stroke-width="1" />
<text x="428.1" y="152.95" font-size="11.4" font-weight="bold" font-style="normal" fill="#000" textLength="46.5" lengthAdjust="spacingAndGlyphs" >−0.001</text>
<line x1="478.7" y1="174.75" x2="481.7" y2="174.75" stroke="#3a3a3a" stroke-width="1" />
<text x="428.09" y="178.7" font-size="11.4" font-weight="bold" font-style="normal" fill="#000" textLength="46.73" lengthAdjust="spacingAndGlyphs" >−0.002</text>
<line x1="503.5" y1="177.1" x2="503.5" y2="180.1" stroke="#3a3a3a" stroke-width="1" />
<line x1="557.7" y1="177.1" x2="557.7" y2="180.1" stroke="#3a3a3a" stroke-width="1" />
<line x1="611.9" y1="177.1" x2="611.9" y2="180.1" stroke="#3a3a3a" stroke-width="1" />
<line x1="666.1" y1="177.1" x2="666.1" y2="180.1" stroke="#3a3a3a" stroke-width="1" />
<line x1="720.3" y1="177.1" x2="720.3" y2="180.1" stroke="#3a3a3a" stroke-width="1" />
<text transform="translate(420.7,117.47) rotate(-90)" x="0" y="0" font-size="16.2" font-weight="bold" fill="#000" textLength="37" lengthAdjust="spacingAndGlyphs">ΔOD</text>
<rect x="634.8" y="26.3" width="130.7" height="21.5" fill="#fff" stroke="#d8d8d8" stroke-width="0.9" rx="2"/>
<line x1="639.3" y1="36.5" x2="662.6" y2="36.5" stroke="#0a800a" stroke-width="1.1" />
<line x1="651.3" y1="31.4" x2="651.3" y2="42.2" stroke="rgba(0,128,0,0.55)" stroke-width="1.2" />
<circle cx="651.3" cy="36.5" r="3.4" fill="#0a800a"/>
<text x="672.16" y="41.3" font-size="12.8" font-weight="bold" font-style="normal" fill="#000" textLength="89.28" lengthAdjust="spacingAndGlyphs" >572.9 eV (x2)</text>
<g clip-path="url(#cc)">
<line x1="481.7" y1="241.4" x2="771.9" y2="241.4" stroke="#909090" stroke-width="0.9" />
<line x1="481.5" y1="196" x2="481.5" y2="248" stroke="rgba(200,0,0,0.7)" stroke-width="1.05" />
<line x1="489.1" y1="216.4" x2="489.1" y2="269.7" stroke="rgba(200,0,0,0.7)" stroke-width="1.05" />
<line x1="496.4" y1="204.6" x2="496.4" y2="261.8" stroke="rgba(200,0,0,0.7)" stroke-width="1.05" />
<line x1="503.4" y1="222.8" x2="503.4" y2="278.5" stroke="rgba(200,0,0,0.7)" stroke-width="1.05" />
<line x1="510.8" y1="226.6" x2="510.8" y2="282.3" stroke="rgba(200,0,0,0.7)" stroke-width="1.05" />
<line x1="518.1" y1="211.1" x2="518.1" y2="265.6" stroke="rgba(200,0,0,0.7)" stroke-width="1.05" />
<line x1="525.4" y1="194.4" x2="525.4" y2="239.2" stroke="rgba(200,0,0,0.7)" stroke-width="1.05" />
<line x1="532.7" y1="221.6" x2="532.7" y2="277.3" stroke="rgba(200,0,0,0.7)" stroke-width="1.05" />
<line x1="540.1" y1="233.4" x2="540.1" y2="289" stroke="rgba(200,0,0,0.7)" stroke-width="1.05" />
<line x1="547.1" y1="222.8" x2="547.1" y2="282.3" stroke="rgba(200,0,0,0.7)" stroke-width="1.05" />
<line x1="554.4" y1="211.1" x2="554.4" y2="266.2" stroke="rgba(200,0,0,0.7)" stroke-width="1.05" />
<line x1="561.5" y1="221.6" x2="561.5" y2="277.3" stroke="rgba(200,0,0,0.7)" stroke-width="1.05" />
<line x1="568.5" y1="238.3" x2="568.5" y2="294.9" stroke="rgba(200,0,0,0.7)" stroke-width="1.05" />
<line x1="575.8" y1="253" x2="575.8" y2="307.2" stroke="rgba(200,0,0,0.7)" stroke-width="1.05" />
<line x1="583.1" y1="248" x2="583.1" y2="308.7" stroke="rgba(200,0,0,0.7)" stroke-width="1.05" />
<line x1="590.2" y1="285.2" x2="590.2" y2="342.4" stroke="rgba(200,0,0,0.7)" stroke-width="1.05" />
<line x1="597.5" y1="310.1" x2="597.5" y2="349.7" stroke="rgba(200,0,0,0.7)" stroke-width="1.05" />
<line x1="604.8" y1="266.8" x2="604.8" y2="320.4" stroke="rgba(200,0,0,0.7)" stroke-width="1.05" />
<line x1="611.8" y1="271.5" x2="611.8" y2="325.4" stroke="rgba(200,0,0,0.7)" stroke-width="1.05" />
<line x1="619.2" y1="288.2" x2="619.2" y2="345.3" stroke="rgba(200,0,0,0.7)" stroke-width="1.05" />
<line x1="626.4" y1="268.6" x2="626.4" y2="323.5" stroke="rgba(200,0,0,0.7)" stroke-width="1.05" />
<line x1="633.5" y1="288.3" x2="633.5" y2="341.1" stroke="rgba(200,0,0,0.7)" stroke-width="1.05" />
<line x1="640.5" y1="261.9" x2="640.5" y2="319.1" stroke="rgba(200,0,0,0.7)" stroke-width="1.05" />
<line x1="648.2" y1="255.1" x2="648.2" y2="312.6" stroke="rgba(200,0,0,0.7)" stroke-width="1.05" />
<line x1="655.2" y1="261.9" x2="655.2" y2="317.6" stroke="rgba(200,0,0,0.7)" stroke-width="1.05" />
<line x1="662.5" y1="238.4" x2="662.5" y2="294.1" stroke="rgba(200,0,0,0.7)" stroke-width="1.05" />
<line x1="669.9" y1="286.8" x2="669.9" y2="345.5" stroke="rgba(200,0,0,0.7)" stroke-width="1.05" />
<line x1="677.2" y1="269.8" x2="677.2" y2="324.9" stroke="rgba(200,0,0,0.7)" stroke-width="1.05" />
<line x1="684.2" y1="276.5" x2="684.2" y2="329.3" stroke="rgba(200,0,0,0.7)" stroke-width="1.05" />
<line x1="691.3" y1="252.2" x2="691.3" y2="308.8" stroke="rgba(200,0,0,0.7)" stroke-width="1.05" />
<line x1="698.6" y1="228.1" x2="698.6" y2="286.8" stroke="rgba(200,0,0,0.7)" stroke-width="1.05" />
<line x1="705.7" y1="286.8" x2="705.7" y2="344" stroke="rgba(200,0,0,0.7)" stroke-width="1.05" />
<line x1="713" y1="250.1" x2="713" y2="307.3" stroke="rgba(200,0,0,0.7)" stroke-width="1.05" />
<line x1="735" y1="251" x2="735" y2="307.3" stroke="rgba(200,0,0,0.7)" stroke-width="1.05" />
<line x1="757.3" y1="267.7" x2="757.3" y2="323.5" stroke="rgba(200,0,0,0.7)" stroke-width="1.05" />
<line x1="779.5" y1="272" x2="779.5" y2="328" stroke="rgba(200,0,0,0.7)" stroke-width="1.05" />
<polyline points="481.5,222.2 489.1,242.7 496.4,233.4 503.4,250.9 510.8,253.9 518.1,237.5 525.4,217 532.7,249.2 540.1,261.2 547.1,252.4 554.4,238.3 561.5,249.2 568.5,266.8 575.8,280 583.1,277.9 590.2,313.6 597.5,338.3 604.8,293.1 611.8,298.4 619.2,316.9 626.4,295.6 633.5,314.7 640.5,290.6 648.2,283.9 655.2,289.7 662.5,266.9 669.9,316.7 677.2,297.1 684.2,302.9 691.3,280.4 698.6,257.5 705.7,315.5 713,278.9 735,278.9 757.3,295 779.5,300" fill="none" stroke="#d42020" stroke-width="1.0" stroke-linejoin="round" />
<circle cx="481.5" cy="222.2" r="3.2" fill="#ff0000"/>
<circle cx="489.1" cy="242.7" r="3.2" fill="#ff0000"/>
<circle cx="496.4" cy="233.4" r="3.2" fill="#ff0000"/>
<circle cx="503.4" cy="250.9" r="3.2" fill="#ff0000"/>
<circle cx="510.8" cy="253.9" r="3.2" fill="#ff0000"/>
<circle cx="518.1" cy="237.5" r="3.2" fill="#ff0000"/>
<circle cx="525.4" cy="217" r="3.2" fill="#ff0000"/>
<circle cx="532.7" cy="249.2" r="3.2" fill="#ff0000"/>
<circle cx="540.1" cy="261.2" r="3.2" fill="#ff0000"/>
<circle cx="547.1" cy="252.4" r="3.2" fill="#ff0000"/>
<circle cx="554.4" cy="238.3" r="3.2" fill="#ff0000"/>
<circle cx="561.5" cy="249.2" r="3.2" fill="#ff0000"/>
<circle cx="568.5" cy="266.8" r="3.2" fill="#ff0000"/>
<circle cx="575.8" cy="280" r="3.2" fill="#ff0000"/>
<circle cx="583.1" cy="277.9" r="3.2" fill="#ff0000"/>
<circle cx="590.2" cy="313.6" r="3.2" fill="#ff0000"/>
<circle cx="597.5" cy="338.3" r="3.2" fill="#ff0000"/>
<circle cx="604.8" cy="293.1" r="3.2" fill="#ff0000"/>
<circle cx="611.8" cy="298.4" r="3.2" fill="#ff0000"/>
<circle cx="619.2" cy="316.9" r="3.2" fill="#ff0000"/>
<circle cx="626.4" cy="295.6" r="3.2" fill="#ff0000"/>
<circle cx="633.5" cy="314.7" r="3.2" fill="#ff0000"/>
<circle cx="640.5" cy="290.6" r="3.2" fill="#ff0000"/>
<circle cx="648.2" cy="283.9" r="3.2" fill="#ff0000"/>
<circle cx="655.2" cy="289.7" r="3.2" fill="#ff0000"/>
<circle cx="662.5" cy="266.9" r="3.2" fill="#ff0000"/>
<circle cx="669.9" cy="316.7" r="3.2" fill="#ff0000"/>
<circle cx="677.2" cy="297.1" r="3.2" fill="#ff0000"/>
<circle cx="684.2" cy="302.9" r="3.2" fill="#ff0000"/>
<circle cx="691.3" cy="280.4" r="3.2" fill="#ff0000"/>
<circle cx="698.6" cy="257.5" r="3.2" fill="#ff0000"/>
<circle cx="705.7" cy="315.5" r="3.2" fill="#ff0000"/>
<circle cx="713" cy="278.9" r="3.2" fill="#ff0000"/>
<circle cx="735" cy="278.9" r="3.2" fill="#ff0000"/>
<circle cx="757.3" cy="295" r="3.2" fill="#ff0000"/>
<circle cx="779.5" cy="300" r="3.2" fill="#ff0000"/>
<polyline points="481.7,238.5 500,239.4 514.9,240.2 532.3,243.3 549.8,246.5 556.2,248.6 562,251.5 567.9,259.8 573.5,271.5 579.6,286.7 585,299.5 590.2,308.6 597.7,312 607.4,308.7 619.9,305.4 632.3,301.6 644.7,297.3 657.2,294.2 669.6,291.1 680,289 694.2,285.7 712.7,282.6 734.7,280.5 756.7,279 771.9,278" fill="none" stroke="#dd1111" stroke-width="1.75" stroke-linejoin="round" />
<line x1="579.3" y1="194.9" x2="579.3" y2="350.8" stroke="#d80000" stroke-width="2.2" stroke-dasharray="2,3.2" stroke-dashoffset="0.5"/>
</g>
<rect x="481.7" y="194.9" width="290.2" height="155.9" fill="none" stroke="#5a5a5a" stroke-width="1.3" />
<line x1="478.7" y1="215.9" x2="481.7" y2="215.9" stroke="#3a3a3a" stroke-width="1" />
<text x="438.12" y="219.85" font-size="11.4" font-weight="bold" font-style="normal" fill="#000" textLength="36.48" lengthAdjust="spacingAndGlyphs" >0.001</text>
<line x1="478.7" y1="241.85" x2="481.7" y2="241.85" stroke="#3a3a3a" stroke-width="1" />
<text x="438.11" y="245.8" font-size="11.4" font-weight="bold" font-style="normal" fill="#000" textLength="36.71" lengthAdjust="spacingAndGlyphs" >0.000</text>
<line x1="478.7" y1="267.8" x2="481.7" y2="267.8" stroke="#3a3a3a" stroke-width="1" />
<text x="428.1" y="271.75" font-size="11.4" font-weight="bold" font-style="normal" fill="#000" textLength="46.5" lengthAdjust="spacingAndGlyphs" >−0.001</text>
<line x1="478.7" y1="293.75" x2="481.7" y2="293.75" stroke="#3a3a3a" stroke-width="1" />
<text x="428.09" y="297.7" font-size="11.4" font-weight="bold" font-style="normal" fill="#000" textLength="46.73" lengthAdjust="spacingAndGlyphs" >−0.002</text>
<line x1="478.7" y1="319.7" x2="481.7" y2="319.7" stroke="#3a3a3a" stroke-width="1" />
<text x="428.1" y="323.65" font-size="11.4" font-weight="bold" font-style="normal" fill="#000" textLength="46.66" lengthAdjust="spacingAndGlyphs" >−0.003</text>
<line x1="478.7" y1="345.65" x2="481.7" y2="345.65" stroke="#3a3a3a" stroke-width="1" />
<text x="428.1" y="349.6" font-size="11.4" font-weight="bold" font-style="normal" fill="#000" textLength="46.2" lengthAdjust="spacingAndGlyphs" >−0.004</text>
<line x1="503.5" y1="350.8" x2="503.5" y2="353.8" stroke="#3a3a3a" stroke-width="1" />
<line x1="557.7" y1="350.8" x2="557.7" y2="353.8" stroke="#3a3a3a" stroke-width="1" />
<line x1="611.9" y1="350.8" x2="611.9" y2="353.8" stroke="#3a3a3a" stroke-width="1" />
<line x1="666.1" y1="350.8" x2="666.1" y2="353.8" stroke="#3a3a3a" stroke-width="1" />
<line x1="720.3" y1="350.8" x2="720.3" y2="353.8" stroke="#3a3a3a" stroke-width="1" />
<text transform="translate(421,291.17) rotate(-90)" x="0" y="0" font-size="16.2" font-weight="bold" fill="#000" textLength="37.1" lengthAdjust="spacingAndGlyphs">ΔOD</text>
<rect x="665.5" y="201.1" width="99.7" height="19.7" fill="#fff" stroke="#d8d8d8" stroke-width="0.9" rx="2"/>
<line x1="669.9" y1="210.5" x2="693.3" y2="210.5" stroke="#ff0000" stroke-width="1.1" />
<line x1="681.6" y1="204.7" x2="681.6" y2="215.8" stroke="rgba(204,0,0,0.6)" stroke-width="1.2" />
<circle cx="681.6" cy="210.5" r="3.4" fill="#ff0000"/>
<text x="703.17" y="214.3" font-size="12.8" font-weight="bold" font-style="normal" fill="#000" textLength="57.76" lengthAdjust="spacingAndGlyphs" >573.9 eV</text>
<g clip-path="url(#cd)">
<line x1="481.7" y1="419.3" x2="771.9" y2="419.3" stroke="#909090" stroke-width="0.9" />
<line x1="481.5" y1="386" x2="481.5" y2="447" stroke="rgba(30,30,190,0.72)" stroke-width="1.05" />
<line x1="489.4" y1="409.2" x2="489.4" y2="469" stroke="rgba(30,30,190,0.72)" stroke-width="1.05" />
<line x1="496.7" y1="383.4" x2="496.7" y2="444.4" stroke="rgba(30,30,190,0.72)" stroke-width="1.05" />
<line x1="503.4" y1="368.2" x2="503.4" y2="427.4" stroke="rgba(30,30,190,0.72)" stroke-width="1.05" />
<line x1="510.8" y1="368.2" x2="510.8" y2="423" stroke="rgba(30,30,190,0.72)" stroke-width="1.05" />
<line x1="518.1" y1="417.1" x2="518.1" y2="477.8" stroke="rgba(30,30,190,0.72)" stroke-width="1.05" />
<line x1="525.4" y1="402.5" x2="525.4" y2="469" stroke="rgba(30,30,190,0.72)" stroke-width="1.05" />
<line x1="532.7" y1="394.6" x2="532.7" y2="458.2" stroke="rgba(30,30,190,0.72)" stroke-width="1.05" />
<line x1="539.8" y1="387" x2="539.8" y2="450.2" stroke="rgba(30,30,190,0.72)" stroke-width="1.05" />
<line x1="547.1" y1="371.7" x2="547.1" y2="434.7" stroke="rgba(30,30,190,0.72)" stroke-width="1.05" />
<line x1="554.4" y1="402.5" x2="554.4" y2="466.1" stroke="rgba(30,30,190,0.72)" stroke-width="1.05" />
<line x1="561.7" y1="425.9" x2="561.7" y2="488.9" stroke="rgba(30,30,190,0.72)" stroke-width="1.05" />
<line x1="568.8" y1="456.7" x2="568.8" y2="521.1" stroke="rgba(30,30,190,0.72)" stroke-width="1.05" />
<line x1="575.8" y1="428" x2="575.8" y2="488.3" stroke="rgba(30,30,190,0.72)" stroke-width="1.05" />
<line x1="583.1" y1="445.6" x2="583.1" y2="510" stroke="rgba(30,30,190,0.72)" stroke-width="1.05" />
<line x1="590.2" y1="433.2" x2="590.2" y2="496.2" stroke="rgba(30,30,190,0.72)" stroke-width="1.05" />
<line x1="597.5" y1="401" x2="597.5" y2="464" stroke="rgba(30,30,190,0.72)" stroke-width="1.05" />
<line x1="604.8" y1="441.5" x2="604.8" y2="503.6" stroke="rgba(30,30,190,0.72)" stroke-width="1.05" />
<line x1="611.8" y1="450.2" x2="611.8" y2="514.7" stroke="rgba(30,30,190,0.72)" stroke-width="1.05" />
<line x1="619.2" y1="456.1" x2="619.2" y2="520.6" stroke="rgba(30,30,190,0.72)" stroke-width="1.05" />
<line x1="626.5" y1="449.5" x2="626.5" y2="512.5" stroke="rgba(30,30,190,0.72)" stroke-width="1.05" />
<line x1="633.5" y1="416.3" x2="633.5" y2="480.3" stroke="rgba(30,30,190,0.72)" stroke-width="1.05" />
<line x1="640.5" y1="459.7" x2="640.5" y2="520.8" stroke="rgba(30,30,190,0.72)" stroke-width="1.05" />
<line x1="647.9" y1="436.3" x2="647.9" y2="506.7" stroke="rgba(30,30,190,0.72)" stroke-width="1.05" />
<line x1="655.2" y1="468" x2="655.2" y2="530" stroke="rgba(30,30,190,0.72)" stroke-width="1.05" />
<line x1="662.5" y1="431.9" x2="662.5" y2="493.5" stroke="rgba(30,30,190,0.72)" stroke-width="1.05" />
<line x1="669.9" y1="459.7" x2="669.9" y2="530" stroke="rgba(30,30,190,0.72)" stroke-width="1.05" />
<line x1="677.2" y1="429.8" x2="677.2" y2="495.5" stroke="rgba(30,30,190,0.72)" stroke-width="1.05" />
<line x1="684.2" y1="434.8" x2="684.2" y2="497.3" stroke="rgba(30,30,190,0.72)" stroke-width="1.05" />
<line x1="691.3" y1="426" x2="691.3" y2="488.5" stroke="rgba(30,30,190,0.72)" stroke-width="1.05" />
<line x1="698.6" y1="454.5" x2="698.6" y2="515.5" stroke="rgba(30,30,190,0.72)" stroke-width="1.05" />
<line x1="705.7" y1="431.9" x2="705.7" y2="501.4" stroke="rgba(30,30,190,0.72)" stroke-width="1.05" />
<line x1="713" y1="424" x2="713" y2="492" stroke="rgba(30,30,190,0.72)" stroke-width="1.05" />
<line x1="735" y1="475.9" x2="735" y2="535" stroke="rgba(30,30,190,0.72)" stroke-width="1.05" />
<line x1="757.3" y1="434.8" x2="757.3" y2="500.8" stroke="rgba(30,30,190,0.72)" stroke-width="1.05" />
<line x1="779.5" y1="430" x2="779.5" y2="496" stroke="rgba(30,30,190,0.72)" stroke-width="1.05" />
<polyline points="481.5,416.3 489.4,439.1 496.7,413.6 503.4,395.2 510.8,394.3 518.1,445.6 525.4,436.2 532.7,426.8 539.8,419.2 547.1,403.4 554.4,435.6 561.7,457.3 568.8,488.3 575.8,458.2 583.1,477.8 590.2,464.9 597.5,432.7 604.8,471.9 611.8,483.1 619.2,488.3 626.5,480.9 633.5,448.6 640.5,490.5 647.9,472.1 655.2,499.6 662.5,462.7 669.9,492 677.2,462.7 684.2,466.2 691.3,456.8 698.6,484.7 705.7,467.1 713,457.7 735,505.8 757.3,467.7 779.5,463" fill="none" stroke="#2a2ad0" stroke-width="1.0" stroke-linejoin="round" />
<circle cx="481.5" cy="416.3" r="3.2" fill="#0000ff"/>
<circle cx="489.4" cy="439.1" r="3.2" fill="#0000ff"/>
<circle cx="496.7" cy="413.6" r="3.2" fill="#0000ff"/>
<circle cx="503.4" cy="395.2" r="3.2" fill="#0000ff"/>
<circle cx="510.8" cy="394.3" r="3.2" fill="#0000ff"/>
<circle cx="518.1" cy="445.6" r="3.2" fill="#0000ff"/>
<circle cx="525.4" cy="436.2" r="3.2" fill="#0000ff"/>
<circle cx="532.7" cy="426.8" r="3.2" fill="#0000ff"/>
<circle cx="539.8" cy="419.2" r="3.2" fill="#0000ff"/>
<circle cx="547.1" cy="403.4" r="3.2" fill="#0000ff"/>
<circle cx="554.4" cy="435.6" r="3.2" fill="#0000ff"/>
<circle cx="561.7" cy="457.3" r="3.2" fill="#0000ff"/>
<circle cx="568.8" cy="488.3" r="3.2" fill="#0000ff"/>
<circle cx="575.8" cy="458.2" r="3.2" fill="#0000ff"/>
<circle cx="583.1" cy="477.8" r="3.2" fill="#0000ff"/>
<circle cx="590.2" cy="464.9" r="3.2" fill="#0000ff"/>
<circle cx="597.5" cy="432.7" r="3.2" fill="#0000ff"/>
<circle cx="604.8" cy="471.9" r="3.2" fill="#0000ff"/>
<circle cx="611.8" cy="483.1" r="3.2" fill="#0000ff"/>
<circle cx="619.2" cy="488.3" r="3.2" fill="#0000ff"/>
<circle cx="626.5" cy="480.9" r="3.2" fill="#0000ff"/>
<circle cx="633.5" cy="448.6" r="3.2" fill="#0000ff"/>
<circle cx="640.5" cy="490.5" r="3.2" fill="#0000ff"/>
<circle cx="647.9" cy="472.1" r="3.2" fill="#0000ff"/>
<circle cx="655.2" cy="499.6" r="3.2" fill="#0000ff"/>
<circle cx="662.5" cy="462.7" r="3.2" fill="#0000ff"/>
<circle cx="669.9" cy="492" r="3.2" fill="#0000ff"/>
<circle cx="677.2" cy="462.7" r="3.2" fill="#0000ff"/>
<circle cx="684.2" cy="466.2" r="3.2" fill="#0000ff"/>
<circle cx="691.3" cy="456.8" r="3.2" fill="#0000ff"/>
<circle cx="698.6" cy="484.7" r="3.2" fill="#0000ff"/>
<circle cx="705.7" cy="467.1" r="3.2" fill="#0000ff"/>
<circle cx="713" cy="457.7" r="3.2" fill="#0000ff"/>
<circle cx="735" cy="505.8" r="3.2" fill="#0000ff"/>
<circle cx="757.3" cy="467.7" r="3.2" fill="#0000ff"/>
<circle cx="779.5" cy="463" r="3.2" fill="#0000ff"/>
<polyline points="481.7,419.2 482.7,419.2 483.7,419.2 484.7,419.2 485.7,419.2 486.7,419.2 487.7,419.2 488.7,419.2 489.7,419.2 490.7,419.2 491.7,419.2 492.7,419.2 493.7,419.2 494.7,419.2 495.7,419.2 496.7,419.2 497.7,419.2 498.7,419.2 499.7,419.2 500.7,419.2 501.7,419.2 502.7,419.2 503.7,419.2 504.7,419.2 505.7,419.2 506.7,419.2 507.7,419.2 508.7,419.2 509.7,419.2 510.7,419.2 511.7,419.2 512.7,419.2 513.7,419.2 514.7,419.2 515.7,419.2 516.7,419.2 517.7,419.2 518.7,419.2 519.7,419.2 520.7,419.2 521.7,419.2 522.7,419.2 523.7,419.21 524.7,419.21 525.7,419.21 526.7,419.22 527.7,419.23 528.7,419.24 529.7,419.26 530.7,419.28 531.7,419.32 532.7,419.36 533.7,419.42 534.7,419.51 535.7,419.62 536.7,419.76 537.7,419.94 538.7,420.18 539.7,420.47 540.7,420.83 541.7,421.28 542.7,421.82 543.7,422.47 544.7,423.24 545.7,424.14 546.7,425.18 547.7,426.37 548.7,427.71 549.7,429.21 550.7,430.86 551.7,432.66 552.7,434.6 553.7,436.67 554.7,438.85 555.7,441.11 556.7,443.43 557.7,445.79 558.7,448.16 559.7,450.51 560.7,452.81 561.7,455.04 562.7,457.17 563.7,459.19 564.7,461.08 565.7,462.82 566.7,464.41 567.7,465.85 568.7,467.13 569.7,468.26 570.7,469.24 571.7,470.08 572.7,470.8 573.7,471.41 574.7,471.91 575.7,472.32 576.7,472.66 577.7,472.92 578.7,473.14 579.7,473.3 580.7,473.43 581.7,473.53 582.7,473.6 583.7,473.66 584.7,473.7 585.7,473.73 586.7,473.75 587.7,473.77 588.7,473.78 589.7,473.78 590.7,473.79 591.7,473.79 592.7,473.8 593.7,473.8 594.7,473.8 595.7,473.8 596.7,473.8 597.7,473.8 598.7,473.8 599.7,473.8 600.7,473.8 601.7,473.8 602.7,473.8 603.7,473.8 604.7,473.8 605.7,473.8 606.7,473.8 607.7,473.8 608.7,473.8 609.7,473.8 610.7,473.8 611.7,473.8 612.7,473.8 613.7,473.8 614.7,473.8 615.7,473.8 616.7,473.8 617.7,473.8 618.7,473.8 619.7,473.8 620.7,473.8 621.7,473.8 622.7,473.8 623.7,473.8 624.7,473.8 625.7,473.8 626.7,473.8 627.7,473.8 628.7,473.8 629.7,473.8 630.7,473.8 631.7,473.8 632.7,473.8 633.7,473.8 634.7,473.8 635.7,473.8 636.7,473.8 637.7,473.8 638.7,473.8 639.7,473.8 640.7,473.8 641.7,473.8 642.7,473.8 643.7,473.8 644.7,473.8 645.7,473.8 646.7,473.8 647.7,473.8 648.7,473.8 649.7,473.8 650.7,473.8 651.7,473.8 652.7,473.8 653.7,473.8 654.7,473.8 655.7,473.8 656.7,473.8 657.7,473.8 658.7,473.8 659.7,473.8 660.7,473.8 661.7,473.8 662.7,473.8 663.7,473.8 664.7,473.8 665.7,473.8 666.7,473.8 667.7,473.8 668.7,473.8 669.7,473.8 670.7,473.8 671.7,473.8 672.7,473.8 673.7,473.8 674.7,473.8 675.7,473.8 676.7,473.8 677.7,473.8 678.7,473.8 679.7,473.8 680.7,473.8 681.7,473.8 682.7,473.8 683.7,473.8 684.7,473.8 685.7,473.8 686.7,473.8 687.7,473.8 688.7,473.8 689.7,473.8 690.7,473.8 691.7,473.8 692.7,473.8 693.7,473.8 694.7,473.8 695.7,473.8 696.7,473.8 697.7,473.8 698.7,473.8 699.7,473.8 700.7,473.8 701.7,473.8 702.7,473.8 703.7,473.8 704.7,473.8 705.7,473.8 706.7,473.8 707.7,473.8 708.7,473.8 709.7,473.8 710.7,473.8 711.7,473.8 712.7,473.8 713.7,473.8 714.7,473.8 715.7,473.8 716.7,473.8 717.7,473.8 718.7,473.8 719.7,473.8 720.7,473.8 721.7,473.8 722.7,473.8 723.7,473.8 724.7,473.8 725.7,473.8 726.7,473.8 727.7,473.8 728.7,473.8 729.7,473.8 730.7,473.8 731.7,473.8 732.7,473.8 733.7,473.8 734.7,473.8 735.7,473.8 736.7,473.8 737.7,473.8 738.7,473.8 739.7,473.8 740.7,473.8 741.7,473.8 742.7,473.8 743.7,473.8 744.7,473.8 745.7,473.8 746.7,473.8 747.7,473.8 748.7,473.8 749.7,473.8 750.7,473.8 751.7,473.8 752.7,473.8 753.7,473.8 754.7,473.8 755.7,473.8 756.7,473.8 757.7,473.8 758.7,473.8 759.7,473.8 760.7,473.8 761.7,473.8 762.7,473.8 763.7,473.8 764.7,473.8 765.7,473.8 766.7,473.8 767.7,473.8 768.7,473.8 769.7,473.8 770.7,473.8 771.7,473.8" fill="none" stroke="#1a1ad0" stroke-width="1.75" stroke-linejoin="round" />
<line x1="557.8" y1="367.8" x2="557.8" y2="524.4" stroke="#0000dd" stroke-width="2.2" stroke-dasharray="2,3.2" stroke-dashoffset="1.4"/>
</g>
<rect x="481.7" y="367.8" width="290.2" height="156.6" fill="none" stroke="#5a5a5a" stroke-width="1.3" />
<line x1="478.7" y1="391.1" x2="481.7" y2="391.1" stroke="#3a3a3a" stroke-width="1" />
<text x="438.12" y="395.05" font-size="11.4" font-weight="bold" font-style="normal" fill="#000" textLength="36.48" lengthAdjust="spacingAndGlyphs" >0.001</text>
<line x1="478.7" y1="419.4" x2="481.7" y2="419.4" stroke="#3a3a3a" stroke-width="1" />
<text x="438.11" y="423.35" font-size="11.4" font-weight="bold" font-style="normal" fill="#000" textLength="36.71" lengthAdjust="spacingAndGlyphs" >0.000</text>
<line x1="478.7" y1="447.7" x2="481.7" y2="447.7" stroke="#3a3a3a" stroke-width="1" />
<text x="428.1" y="451.65" font-size="11.4" font-weight="bold" font-style="normal" fill="#000" textLength="46.5" lengthAdjust="spacingAndGlyphs" >−0.001</text>
<line x1="478.7" y1="476" x2="481.7" y2="476" stroke="#3a3a3a" stroke-width="1" />
<text x="428.09" y="479.95" font-size="11.4" font-weight="bold" font-style="normal" fill="#000" textLength="46.73" lengthAdjust="spacingAndGlyphs" >−0.002</text>
<line x1="478.7" y1="504.3" x2="481.7" y2="504.3" stroke="#3a3a3a" stroke-width="1" />
<text x="428.1" y="508.25" font-size="11.4" font-weight="bold" font-style="normal" fill="#000" textLength="46.66" lengthAdjust="spacingAndGlyphs" >−0.003</text>
<line x1="503.5" y1="524.4" x2="503.5" y2="527.4" stroke="#3a3a3a" stroke-width="1" />
<line x1="557.7" y1="524.4" x2="557.7" y2="527.4" stroke="#3a3a3a" stroke-width="1" />
<line x1="611.9" y1="524.4" x2="611.9" y2="527.4" stroke="#3a3a3a" stroke-width="1" />
<line x1="666.1" y1="524.4" x2="666.1" y2="527.4" stroke="#3a3a3a" stroke-width="1" />
<line x1="720.3" y1="524.4" x2="720.3" y2="527.4" stroke="#3a3a3a" stroke-width="1" />
<text transform="translate(421,463.95) rotate(-90)" x="0" y="0" font-size="16.2" font-weight="bold" fill="#000" textLength="35.85" lengthAdjust="spacingAndGlyphs">ΔOD</text>
<text x="495.1" y="539.8" font-size="11.3" font-weight="bold" font-style="normal" fill="#000" textLength="17.18" lengthAdjust="spacingAndGlyphs" >−1</text>
<text x="553.61" y="539.8" font-size="11.3" font-weight="bold" font-style="normal" fill="#000" textLength="8.2" lengthAdjust="spacingAndGlyphs" >0</text>
<text x="608.57" y="539.8" font-size="11.3" font-weight="bold" font-style="normal" fill="#000" textLength="6.28" lengthAdjust="spacingAndGlyphs" >1</text>
<text x="662.99" y="539.8" font-size="11.3" font-weight="bold" font-style="normal" fill="#000" textLength="6.28" lengthAdjust="spacingAndGlyphs" >2</text>
<text x="717.22" y="539.8" font-size="11.3" font-weight="bold" font-style="normal" fill="#000" textLength="6.28" lengthAdjust="spacingAndGlyphs" >3</text>
<text x="581.78" y="558.1" font-size="15.3" font-weight="bold" font-style="normal" fill="#000" textLength="89.34" lengthAdjust="spacingAndGlyphs" >Delay (ps)</text>
<rect x="678.1" y="374.1" width="87.1" height="20.5" fill="#fff" stroke="#d8d8d8" stroke-width="0.9" rx="2"/>
<line x1="681.6" y1="383.5" x2="707.4" y2="383.5" stroke="#1a1ad0" stroke-width="1.6" />
<text x="715.78" y="387.9" font-size="12.8" font-weight="bold" font-style="normal" fill="#000" textLength="44.48" lengthAdjust="spacingAndGlyphs" >576 eV</text>
<text x="566.31" y="384.7" font-size="13.2" font-weight="bold" font-style="normal" fill="#000" textLength="106.57" lengthAdjust="spacingAndGlyphs" >Δt = 400±110 fs</text>
<path d="M562,359.9 H575.3" stroke="#000" stroke-width="1.6"/>
<polygon points="557.6,359.9 563.6,356.2 563.6,363.6" fill="#000"/>
<polygon points="579.7,359.9 573.7,356.2 573.7,363.6" fill="#000"/>
</svg>
</body></html>
